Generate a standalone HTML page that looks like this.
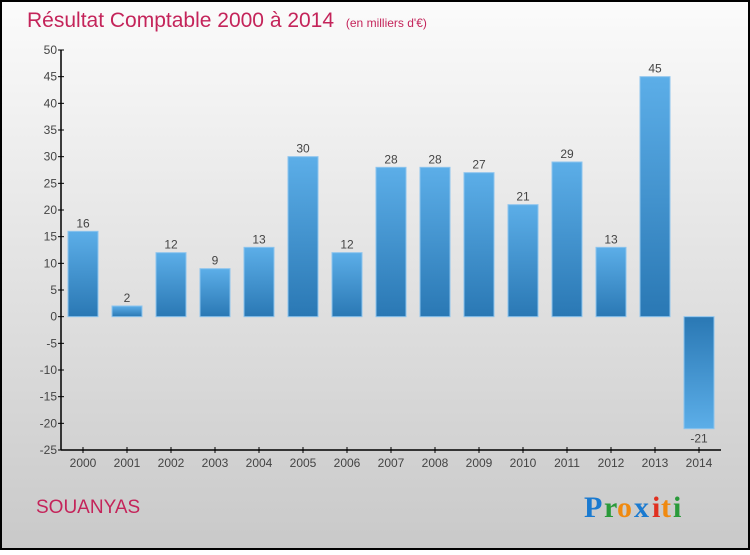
<!DOCTYPE html>
<html><head><meta charset="utf-8"><style>
body{margin:0;width:750px;height:550px;overflow:hidden;font-family:"Liberation Sans",sans-serif}
</style></head><body>
<svg width="750" height="550" xmlns="http://www.w3.org/2000/svg">
<defs>
<linearGradient id="bg" x1="0" y1="0" x2="0" y2="1"><stop offset="0" stop-color="#fbfbfb"/><stop offset="1" stop-color="#c9c9c9"/></linearGradient>
<linearGradient id="pos" x1="0" y1="0" x2="0" y2="1"><stop offset="0" stop-color="#5caee8"/><stop offset="1" stop-color="#2a78b4"/></linearGradient>
<linearGradient id="neg" x1="0" y1="0" x2="0" y2="1"><stop offset="0" stop-color="#2a78b4"/><stop offset="1" stop-color="#5caee8"/></linearGradient>
</defs>
<rect x="1" y="1" width="748" height="548" fill="url(#bg)" stroke="#000" stroke-width="2"/>
<text x="27" y="27" font-size="21" fill="#c4245a">Résultat Comptable 2000 à 2014 <tspan font-size="12" dx="6">(en milliers d'€)</tspan></text>
<g id="yaxis"></g>
<g id="bars"></g>
<g id="xaxis"></g>
<text x="36" y="513" font-size="19" fill="#c4245a">SOUANYAS</text>
<g font-size="30" font-family="'Liberation Serif',serif" font-weight="bold">
<text x="584" y="517" fill="#1a7ad0">P</text><text x="604" y="517" fill="#2a9a3a">r</text><text x="617" y="517" fill="#f08a10">o</text><text x="634" y="517" fill="#1a7ad0">x</text><text x="652" y="517" fill="#e03020">i</text><text x="661" y="517" fill="#f08a10">t</text><text x="673" y="517" fill="#2a9a3a">i</text>
</g>
</svg>
<script>
const years=["2000","2001","2002","2003","2004","2005","2006","2007","2008","2009","2010","2011","2012","2013","2014"];
const values=[16,2,12,9,13,30,12,28,28,27,21,29,13,45,-21];
const yTicks=[50,45,40,35,30,25,20,15,10,5,0,-5,-10,-15,-20,-25];
const NS="http://www.w3.org/2000/svg";
const yMin=-25,yMax=50,yTop=50,yBot=450,xLeft=61,xRight=721;
const y=v=>yBot-(v-yMin)/(yMax-yMin)*(yBot-yTop);
const x=i=>83+i*44;
function mk(t,a,p){const e=document.createElementNS(NS,t);for(const k in a)e.setAttribute(k,a[k]);p.appendChild(e);return e;}
const ya=document.getElementById('yaxis'),ba=document.getElementById('bars'),xa=document.getElementById('xaxis');
mk('line',{x1:xLeft,y1:yTop,x2:xLeft,y2:yBot,stroke:'#000','stroke-width':1.5},ya);
yTicks.forEach(v=>{
 mk('line',{x1:xLeft-3,y1:y(v),x2:xLeft+3,y2:y(v),stroke:'#000'},ya);
 const t=mk('text',{x:xLeft-4,y:y(v)+4,'text-anchor':'end','font-size':12,fill:'#444'},ya);
 
 
 t.textContent=v;
});
mk('line',{x1:xLeft,y1:yBot,x2:xRight,y2:yBot,stroke:'#000','stroke-width':1.5},xa);
values.forEach((v,i)=>{
 const y0=y(0),y1=y(v);
 const r=mk('rect',{x:x(i)-15,y:Math.min(y0,y1),width:30,height:Math.abs(y1-y0),fill:v>=0?'url(#pos)':'url(#neg)',stroke:'#8cc4ee','stroke-width':1},ba);
 
 
 const l=mk('text',{x:x(i),y:v>=0?y1-4:y1+14,'text-anchor':'middle','font-size':12,fill:'#444'},ba);
 
 
 l.textContent=v;
 mk('line',{x1:x(i),y1:yBot-3,x2:x(i),y2:yBot+3,stroke:'#000'},xa);
 const xt=mk('text',{x:x(i),y:yBot+17,'text-anchor':'middle','font-size':12,fill:'#444'},xa);
 
 
 xt.textContent=years[i];
});
</script>
</body></html>
